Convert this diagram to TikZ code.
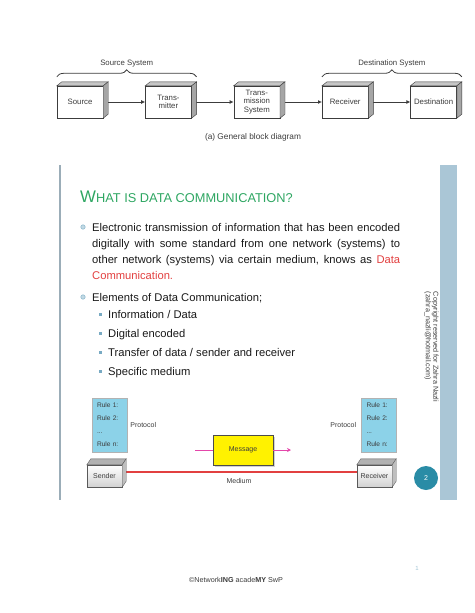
\documentclass[tikz,border=0pt]{standalone}
\usepackage{fontspec}
\setmainfont{Liberation Sans}
\usetikzlibrary{positioning,arrows.meta,decorations.pathreplacing,shadows}

\definecolor{titlegreen}{RGB}{46,166,98}
\definecolor{linkred}{RGB}{226,64,64}
\definecolor{ruleblue}{RGB}{140,210,232}
\definecolor{barblue}{RGB}{170,198,214}
\definecolor{pageteal}{RGB}{42,140,166}
\definecolor{bulletblue}{RGB}{120,170,195}
\definecolor{msgpink}{RGB}{228,70,170}
\definecolor{inkgray}{RGB}{60,60,60}

\begin{document}
\begin{tikzpicture}[
            x=1pt, y=-1pt,
            box/.style={rectangle, draw=inkgray, fill=white, minimum width=46pt, minimum height=32pt, inner sep=1pt, align=center, text=inkgray, font=\fontsize{7.8}{8.6}\selectfont},
            arrow/.style={-{Latex[length=4pt,width=4pt]}, inkgray, thick},
            brace/.style={decorate, decoration={brace, amplitude=7pt}, inkgray, thick},
            lbl/.style={inner sep=0pt, text=inkgray, font=\fontsize{7}{8}\selectfont},
            rulebox/.style={rectangle, draw=gray!60, fill=ruleblue, minimum width=35pt, minimum height=54pt, text width=25pt, inner xsep=5pt, align=left, text=inkgray, font=\fontsize{6.6}{13}\selectfont},
            cube/.style={rectangle, draw=gray!70!black, top color=white, bottom color=gray!35, minimum width=35pt, minimum height=22pt, inner sep=1pt, text=inkgray, font=\fontsize{7}{8}\selectfont},
            msgbox/.style={rectangle, draw=gray!60!black, fill=yellow, minimum width=60pt, minimum height=30pt, text=inkgray, font=\fontsize{7}{8}\selectfont, drop shadow={shadow xshift=1.5pt, shadow yshift=-1.5pt, fill=gray!70}},
            msgline/.style={msgpink, thick},
            medium/.style={linkred, line width=2.5pt},
            bodytext/.style={inner sep=0pt, text=black!90, font=\fontsize{11.2}{16.2}\selectfont},
            dot/.style={circle, draw=bulletblue, fill=bulletblue!45, minimum size=4.5pt, inner sep=0pt},
            subdot/.style={rectangle, fill=bulletblue, minimum size=3pt, inner sep=0pt}
        ]
            \useasboundingbox (0,0) rectangle (474,613);

            % general block diagram
            \node[box] (src) at (80,102) {Source};
            \node[box, right=42pt of src] (tx) {Trans-\\mitter};
            \node[box, right=42pt of tx] (txsys) {Trans-\\mission\\System};
            \node[box, right=42pt of txsys] (rx) {Receiver};
            \node[box, right=42pt of rx] (dst) {Destination};

            \draw[arrow] (src) -- (tx);
            \draw[arrow] (tx) -- (txsys);
            \draw[arrow] (txsys) -- (rx);
            \draw[arrow] (rx) -- (dst);

            \foreach \n in {src,tx,txsys,rx,dst} {
                \filldraw[draw=inkgray, fill=gray!45] (\n.north west) -- ++(5pt,4pt) -- ([shift={(5pt,4pt)}]\n.north east) -- (\n.north east) -- cycle;
                \filldraw[draw=inkgray, fill=gray!70] (\n.north east) -- ++(5pt,4pt) -- ([shift={(5pt,4pt)}]\n.south east) -- (\n.south east) -- cycle;
            }

            \draw[brace] ([yshift=9pt]src.north west) -- ([shift={(5pt,9pt)}]tx.north east)
                node[midway, above=9pt, lbl, font=\fontsize{7.8}{8.6}\selectfont] (srcsys) {Source System};
            \draw[brace] ([yshift=9pt]rx.north west) -- ([shift={(5pt,9pt)}]dst.north east)
                node[midway, above=9pt, lbl, font=\fontsize{7.8}{8.6}\selectfont] (dstsys) {Destination System};

            \node[lbl, font=\fontsize{8.3}{9}\selectfont] (caption) at (253,137) {(a) General block diagram};

            % slide frame
            \fill[gray!35!barblue] (59.3,165) rectangle (60.8,500);
            \fill[barblue] (440,165) rectangle (457,500);

            \node[anchor=base west, inner sep=0pt, text=titlegreen, font=\fontsize{12.8}{15}\selectfont] (title) at (80,202.5) {{\fontsize{16.8}{18}\selectfont W}HAT IS DATA COMMUNICATION?};

            \node[dot] (dot1) at (83,227) {};
            \node[bodytext, anchor=north west, text width=308pt, align=justify] (item1) at (92,223) {\hyphenpenalty=10000 Electronic transmission of information that has been encoded\linebreak digitally with some standard from one network (systems) to\linebreak other network (systems) via certain medium, knows as \textcolor{linkred}{Data}\linebreak \textcolor{linkred}{Communication.}};
            \node[dot] (dot2) at (83,297) {};
            \node[bodytext, anchor=base west] (item2) at (92,301) {Elements of Data Communication;};

            \node[subdot] (sub1dot) at (100,314) {};
            \node[bodytext, anchor=base west] (sub1) at (108,318) {Information / Data};
            \node[subdot] (sub2dot) at (100,333) {};
            \node[bodytext, anchor=base west] (sub2) at (108,337) {Digital encoded};
            \node[subdot] (sub3dot) at (100,352) {};
            \node[bodytext, anchor=base west] (sub3) at (108,356) {Transfer of data / sender and receiver};
            \node[subdot] (sub4dot) at (100,371) {};
            \node[bodytext, anchor=base west] (sub4) at (108,375) {Specific medium};

            \node[rotate=-90, align=left, inner sep=0pt, text=inkgray, font=\fontsize{7.2}{7.6}\selectfont] (copyright) at (431.5,347) {Copyright reserved for Zahra Nazli\\(zahra\_nazli@hotmail.com)};

            % protocol diagram
            \node[rulebox] (rule1) at (109.5,425) {Rule 1:\\Rule 2:\\...\\Rule n:};
            \node[rulebox] (rule2) at (379,425) {Rule 1:\\Rule 2:\\...\\Rule n:};
            \node[lbl, right=3pt of rule1] (proto1) {Protocol};
            \node[lbl, left=5pt of rule2] (proto2) {Protocol};

            \coordinate (msgin) at (195,450);
            \coordinate (msgout) at (291,450);
            \node[msgbox] (message) at (243,450) {Message};
            \draw[msgline] (msgin) -- (message);
            \draw[msgline, -{Stealth[length=4pt,width=4pt]}] (message) -- (msgout);

            \node[cube] (sender) at (104.5,476) {Sender};
            \node[cube] (receiver) at (374.5,476) {Receiver};
            \draw[medium] ([yshift=4pt]sender.east) -- ([yshift=4pt]receiver.west);
            \foreach \n in {sender,receiver} {
                \filldraw[draw=gray!70!black, fill=gray!60] (\n.north west) -- ++(4pt,6pt) -- ([shift={(4pt,6pt)}]\n.north east) -- (\n.north east) -- cycle;
                \filldraw[draw=gray!70!black, fill=gray!50] (\n.north east) -- ++(4pt,6pt) -- ([shift={(4pt,6pt)}]\n.south east) -- (\n.south east) -- cycle;
            }
            \node[lbl] (mediumlbl) at (239,481) {Medium};

            \node[circle, fill=pageteal, minimum size=24pt, inner sep=0pt, text=white, font=\fontsize{7}{8}\selectfont] (pagenum) at (426,478) {2};

            % footer
            \node[lbl, font=\fontsize{7.2}{8}\selectfont] (footer) at (236,580) {©Network\textbf{ING} acade\textbf{MY} SwP};
            \node[lbl, text=bulletblue!70, font=\fontsize{6}{7}\selectfont] (pageone) at (417,568) {1};
        \end{tikzpicture}
\end{document}
